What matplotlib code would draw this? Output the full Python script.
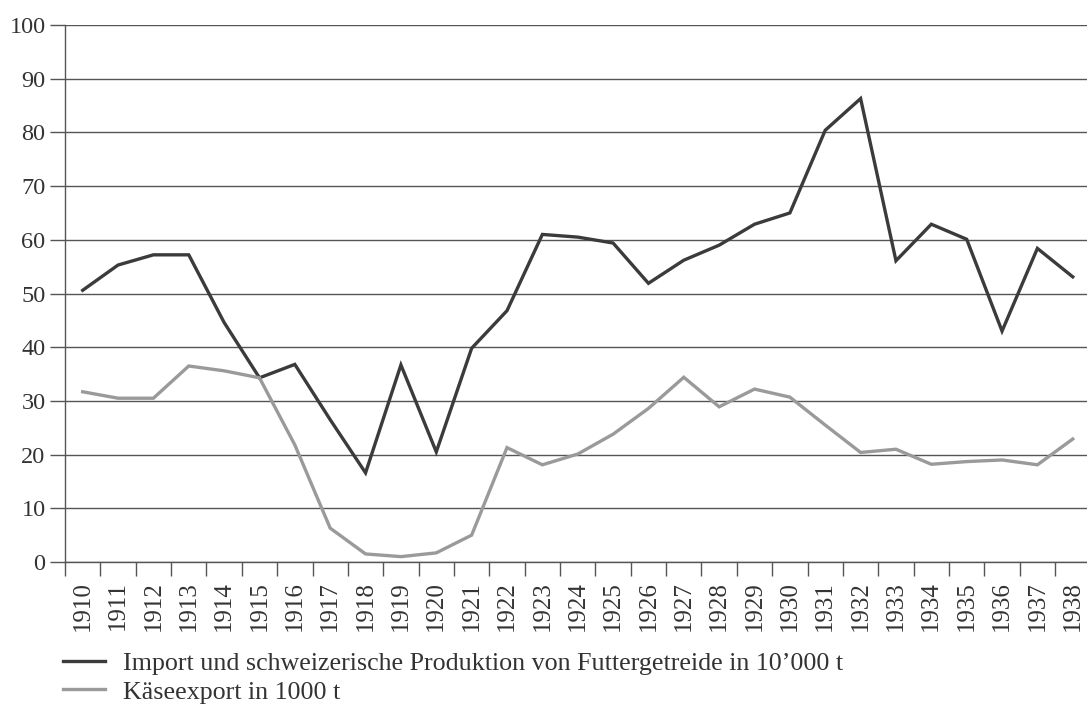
import matplotlib.pyplot as plt
import numpy as np

plt.rcParams['font.family'] = ['Liberation Serif', 'DejaVu Serif']

years = [str(y) for y in range(1910, 1939)]
# Import und schweizerische Produktion von Futtergetreide in 10'000 t
futter = [50.6, 55.3, 57.2, 57.2, 44.6, 34.3, 36.8, 26.5, 16.6, 36.7,
          20.5, 39.8, 46.8, 61.0, 60.5, 59.4, 51.9, 56.2, 59.0, 62.9,
          65.0, 80.4, 86.3, 56.1, 62.9, 60.1, 43.0, 58.4, 53.1]
# Käseexport in 1000 t
kaese = [31.7, 30.5, 30.5, 36.5, 35.6, 34.3, 21.8, 6.3, 1.5, 1.0,
         1.7, 5.0, 21.3, 18.1, 20.1, 23.8, 28.6, 34.4, 28.9, 32.2,
         30.7, 25.5, 20.4, 21.0, 18.2, 18.7, 19.0, 18.1, 22.9]

labels = ["Import und schweizerische Produktion von Futtergetreide in 10\u2019000 t",
          "K\u00e4seexport in 1000 t"]

fig = plt.figure(figsize=(10.87, 7.04), dpi=100)
ax = fig.add_axes([65/1087, 1-562/704, 29*35.36/1087, 537/704])

x = np.arange(len(years))
l1, = ax.plot(x, futter, color='#3b3b3b', lw=2.4, solid_joinstyle='miter')
l2, = ax.plot(x, kaese, color='#9a9a9a', lw=2.4, solid_joinstyle='miter')

ax.set_ylim(0, 100)
ax.set_xlim(-0.5, len(years) - 0.5)
ax.set_yticks(range(0, 101, 10))
ax.yaxis.grid(True, color='#555555', lw=1.0)
ax.set_axisbelow(True)

ax.set_xticks(x)
ax.set_xticklabels(years, rotation=90)
ax.set_xticks(np.arange(-0.5, len(years), 1), minor=True)
ax.tick_params(axis='x', which='major', length=0, pad=14, labelsize=18, colors='#333333')
ax.tick_params(axis='x', which='minor', length=10, width=1, color='#555555', direction='out')
ax.tick_params(axis='y', length=11, width=1, color='#555555', pad=3, labelsize=17.5, labelcolor='#333333')

for s in ['top', 'right']:
    ax.spines[s].set_visible(False)
for s in ['left', 'bottom']:
    ax.spines[s].set_color('#555555')
    ax.spines[s].set_linewidth(1.0)

fig.legend(handles=[l1, l2], labels=labels, loc='upper left',
           bbox_to_anchor=(63/1087, 1-652/704), frameon=False,
           fontsize=18.7, handlelength=1.6, handletextpad=0.72,
           labelspacing=0.2, borderaxespad=0, borderpad=0, labelcolor='#333333')

fig.savefig('out.png', dpi=100)
